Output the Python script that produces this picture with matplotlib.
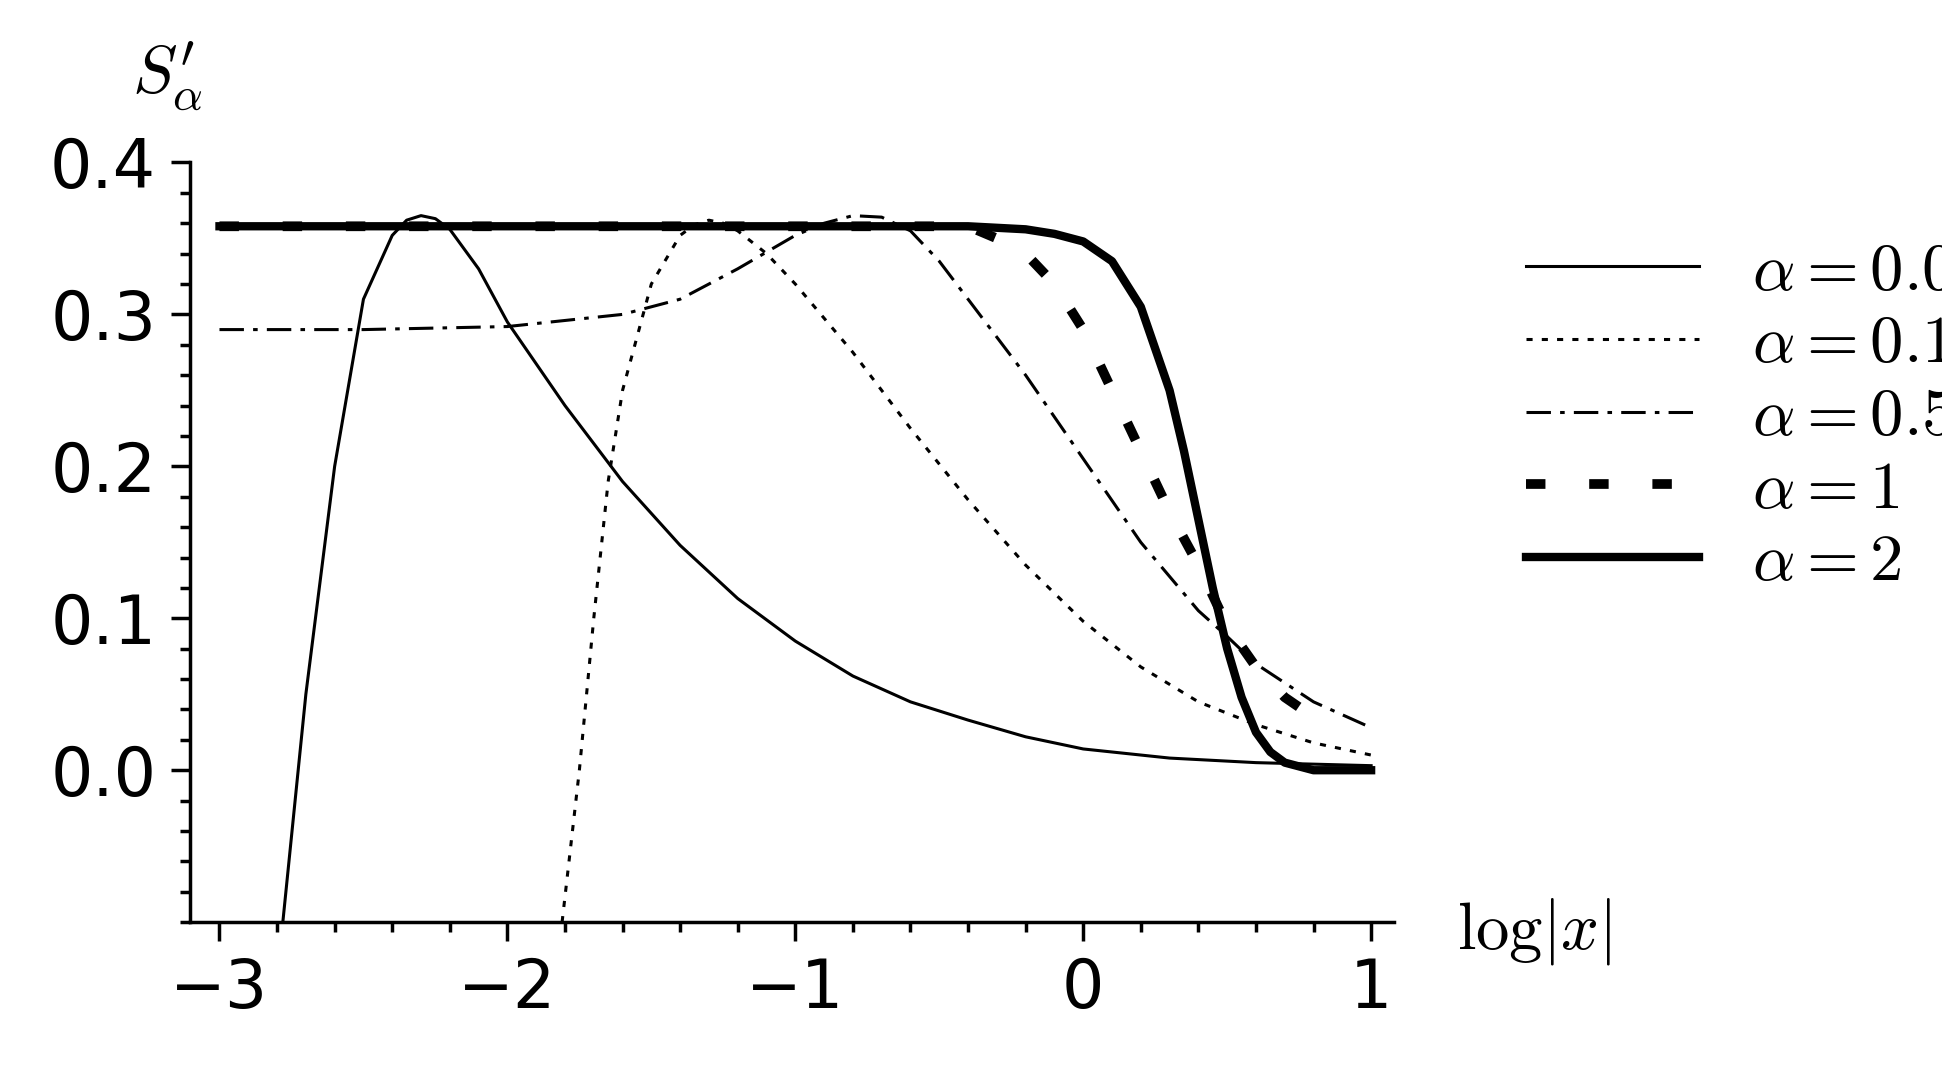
import matplotlib.pyplot as plt
from matplotlib.ticker import MultipleLocator

plt.rcParams['mathtext.fontset'] = 'cm'

# values (x = log|x|, y = S'_alpha)
x_001 = [-2.78, -2.7, -2.6, -2.5, -2.4, -2.35, -2.3, -2.25, -2.2, -2.1, -2.0, -1.8, -1.6, -1.4, -1.2,
         -1.0, -0.8, -0.6, -0.4, -0.2, 0.0, 0.3, 0.6, 1.0]
y_001 = [-0.1, 0.05, 0.2, 0.31, 0.352, 0.362, 0.365, 0.363, 0.356, 0.33, 0.295, 0.24, 0.19, 0.148, 0.113,
         0.085, 0.062, 0.045, 0.033, 0.022, 0.014, 0.008, 0.005, 0.003]

x_01 = [-1.81, -1.75, -1.7, -1.65, -1.6, -1.5, -1.4, -1.35, -1.3, -1.25, -1.2, -1.1, -1.0, -0.8, -0.6,
        -0.4, -0.2, 0.0, 0.2, 0.4, 0.6, 0.8, 1.0]
y_01 = [-0.1, 0.0, 0.1, 0.19, 0.25, 0.32, 0.352, 0.359, 0.362, 0.36, 0.355, 0.34, 0.32, 0.275, 0.225,
        0.178, 0.135, 0.098, 0.068, 0.045, 0.03, 0.018, 0.01]

x_05 = [-3.0, -2.5, -2.0, -1.6, -1.4, -1.2, -1.0, -0.9, -0.8, -0.7, -0.6, -0.5, -0.4, -0.2,
        0.0, 0.2, 0.4, 0.5, 0.6, 0.8, 1.0]
y_05 = [0.29, 0.29, 0.292, 0.3, 0.31, 0.33, 0.352, 0.36, 0.365, 0.364, 0.355, 0.335, 0.31, 0.26,
        0.205, 0.15, 0.105, 0.088, 0.07, 0.045, 0.028]

x_1 = [-3.0, -0.4, -0.3, -0.2, -0.1, 0.0, 0.1, 0.2, 0.3, 0.4, 0.5, 0.6, 0.7, 0.8]
y_1 = [0.358, 0.358, 0.35, 0.34, 0.32, 0.29, 0.25, 0.21, 0.17, 0.135, 0.095, 0.068, 0.048, 0.035]

x_2 = [-3.0, -0.4, -0.2, -0.1, 0.0, 0.1, 0.2, 0.3, 0.35, 0.4, 0.45, 0.5, 0.55, 0.6, 0.65, 0.7, 0.8, 1.0]
y_2 = [0.358, 0.358, 0.356, 0.353, 0.348, 0.335, 0.305, 0.25, 0.21, 0.165, 0.12, 0.08, 0.048, 0.025, 0.012, 0.005, 0.0, 0.0]

fig = plt.figure(figsize=(19.42, 10.83), dpi=100)
ax = fig.add_axes([0.0976, 0.1485, 0.62, 0.7015])

ax.plot(x_001, y_001, color='black', lw=2.2, label=r'$\alpha = 0.01$')
ax.plot(x_01, y_01, color='black', lw=2.2, ls=(0, (2, 3)), label=r'$\alpha = 0.1$')
ax.plot(x_05, y_05, color='black', lw=2.2, ls=(0, (8, 3, 1.5, 3)), label=r'$\alpha = 0.5$')
ax.plot(x_1, y_1, color='black', lw=7, ls=(0, (2, 4.5)), label=r'$\alpha = 1$')
ax.plot(x_2, y_2, color='black', lw=6, label=r'$\alpha = 2$')

ax.set_xlim(-3.104, 1.078)
ax.set_ylim(-0.1, 0.4)
ax.set_xticks([-3, -2, -1, 0, 1])
ax.set_xticklabels(['−3', '−2', '−1', '0', '1'])
ax.set_yticks([0.0, 0.1, 0.2, 0.3, 0.4])
ax.set_yticklabels(['0.0', '0.1', '0.2', '0.3', '0.4'])
ax.xaxis.set_minor_locator(MultipleLocator(0.2))
ax.yaxis.set_minor_locator(MultipleLocator(0.02))
ax.tick_params(which='major', direction='out', length=14, width=2.5, labelsize=48, pad=10)
ax.tick_params(which='minor', direction='out', length=7, width=2.5)
for s in ['top', 'right']:
    ax.spines[s].set_visible(False)
for s in ['left', 'bottom']:
    ax.spines[s].set_linewidth(2.5)

fig.text(0.068, 0.93, r"$S^{\prime}_{\alpha}$", fontsize=48, ha='left', va='center')
fig.text(0.75, 0.14, r'$\log|x|$', fontsize=48, ha='left', va='center')

ax.legend(loc='upper left', bbox_to_anchor=(1.06, 0.98), frameon=False, fontsize=48,
          handlelength=2.6, labelspacing=0.1, handletextpad=0.8)

plt.savefig('out.png', dpi=100)
